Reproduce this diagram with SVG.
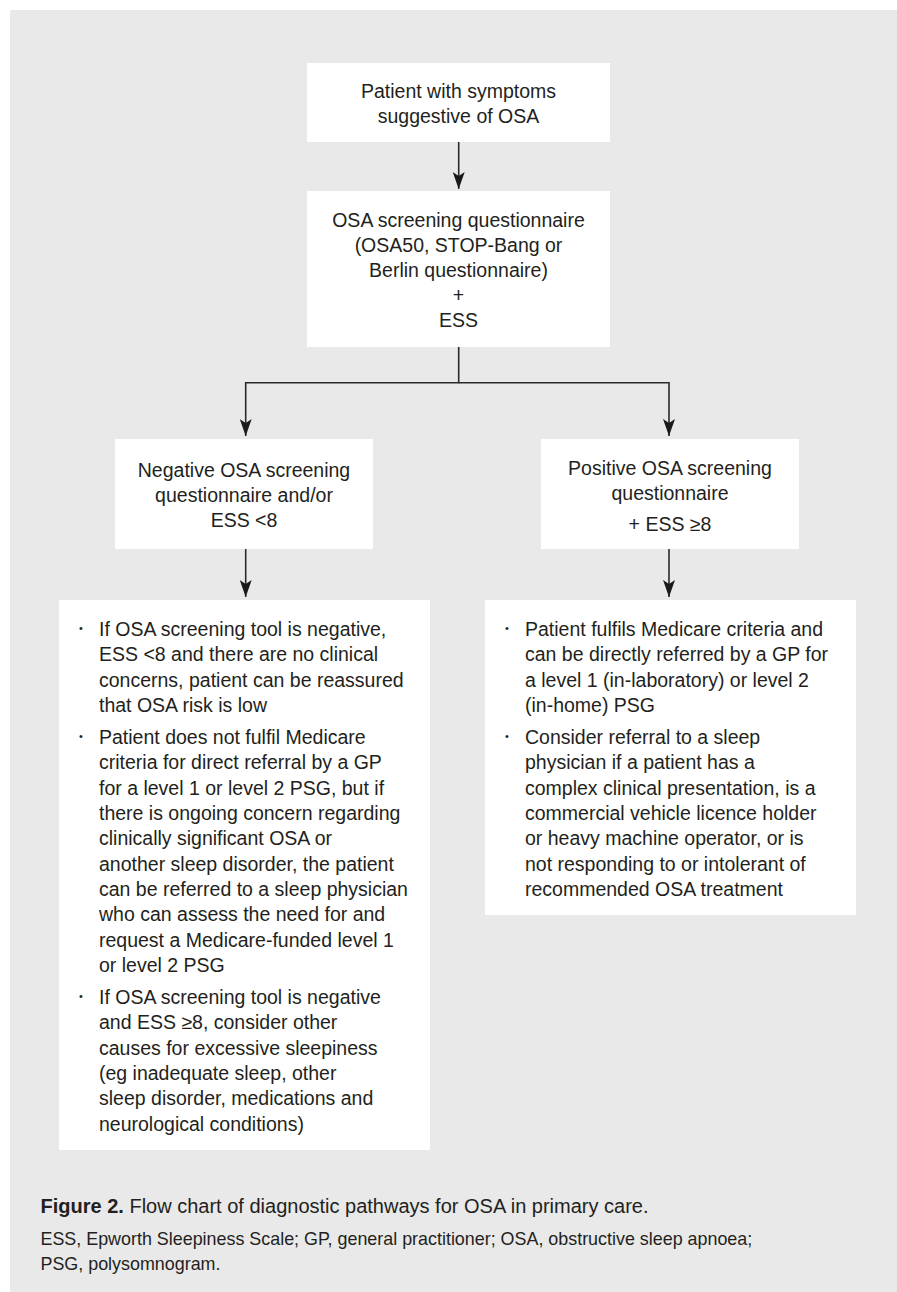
<svg xmlns="http://www.w3.org/2000/svg" width="897" height="1292" viewBox="0 0 897 1292">
<defs>
<marker id="ah" viewBox="0 0 17 12" refX="17" refY="6" markerWidth="17" markerHeight="12" markerUnits="userSpaceOnUse" orient="auto">
<path d="M0,0 L17,6 L0,12 L4,6 z" fill="#1a1a1a"/>
</marker>
<style>
.box{fill:#ffffff;}
.t{font-family:"Liberation Sans",Arial,sans-serif;font-size:19.5px;fill:#231f20;}
.c{text-anchor:middle;}
.b{font-family:"Liberation Sans",Arial,sans-serif;font-size:11px;fill:#231f20;text-anchor:middle;}
.cap1{font-family:"Liberation Sans",Arial,sans-serif;font-size:20px;fill:#231f20;}
.cap2{font-family:"Liberation Sans",Arial,sans-serif;font-size:17.9px;fill:#231f20;}
.ln{fill:none;stroke:#2a2a2a;stroke-width:1.6;}
</style>
</defs>
<rect x="0" y="0" width="897" height="1292" fill="#ffffff"/>
<rect x="10" y="10" width="887" height="1282" fill="#e9e9e9"/>

<g id="connectors">
<path class="ln" d="M458.7,142 V189" marker-end="url(#ah)"/>
<path class="ln" d="M458.7,347 V382.7 H245.7 V436" marker-end="url(#ah)"/>
<path class="ln" d="M458.7,382.7 H669 V436" marker-end="url(#ah)"/>
<path class="ln" d="M245.7,549 V597" marker-end="url(#ah)"/>
<path class="ln" d="M669,549 V597" marker-end="url(#ah)"/>
</g>

<g id="node-start">
<rect class="box" x="307" y="63" width="303" height="79"/>
<text class="t c" x="458.5" y="97.5">Patient with symptoms</text>
<text class="t c" x="458.5" y="122.5">suggestive of OSA</text>
</g>

<g id="node-screening">
<rect class="box" x="307" y="191" width="303" height="156"/>
<text class="t c" x="458.5" y="227">OSA screening questionnaire</text>
<text class="t c" x="458.5" y="252">(OSA50, STOP-Bang or</text>
<text class="t c" x="458.5" y="277">Berlin questionnaire)</text>
<text class="t c" x="458.5" y="302">+</text>
<text class="t c" x="458.5" y="327">ESS</text>
</g>

<g id="node-negative">
<rect class="box" x="115" y="439" width="258" height="110"/>
<text class="t c" x="244" y="477">Negative OSA screening</text>
<text class="t c" x="244" y="502">questionnaire and/or</text>
<text class="t c" x="244" y="527">ESS &lt;8</text>
</g>

<g id="node-positive">
<rect class="box" x="541" y="439" width="258" height="110"/>
<text class="t c" x="670" y="475">Positive OSA screening</text>
<text class="t c" x="670" y="500">questionnaire</text>
<text class="t c" x="670" y="531">+ ESS ≥8</text>
</g>

<g id="node-negative-actions">
<rect class="box" x="59" y="600" width="371" height="550"/>
<text class="b" x="81" y="632">•</text>
<text class="b" x="81" y="740">•</text>
<text class="b" x="81" y="1000">•</text>
<text class="t" x="99" y="636">
<tspan x="99" dy="0">If OSA screening tool is negative,</tspan>
<tspan x="99" dy="25.33">ESS &lt;8 and there are no clinical</tspan>
<tspan x="99" dy="25.33">concerns, patient can be reassured</tspan>
<tspan x="99" dy="25.33">that OSA risk is low</tspan>
</text>
<text class="t" x="99" y="744">
<tspan x="99" dy="0">Patient does not fulfil Medicare</tspan>
<tspan x="99" dy="25.33">criteria for direct referral by a GP</tspan>
<tspan x="99" dy="25.33">for a level 1 or level 2 PSG, but if</tspan>
<tspan x="99" dy="25.33">there is ongoing concern regarding</tspan>
<tspan x="99" dy="25.33">clinically significant OSA or</tspan>
<tspan x="99" dy="25.33">another sleep disorder, the patient</tspan>
<tspan x="99" dy="25.33">can be referred to a sleep physician</tspan>
<tspan x="99" dy="25.33">who can assess the need for and</tspan>
<tspan x="99" dy="25.33">request a Medicare-funded level 1</tspan>
<tspan x="99" dy="25.33">or level 2 PSG</tspan>
</text>
<text class="t" x="99" y="1004">
<tspan x="99" dy="0">If OSA screening tool is negative</tspan>
<tspan x="99" dy="25.33">and ESS ≥8, consider other</tspan>
<tspan x="99" dy="25.33">causes for excessive sleepiness</tspan>
<tspan x="99" dy="25.33">(eg inadequate sleep, other</tspan>
<tspan x="99" dy="25.33">sleep disorder, medications and</tspan>
<tspan x="99" dy="25.33">neurological conditions)</tspan>
</text>
</g>

<g id="node-positive-actions">
<rect class="box" x="485" y="600" width="371" height="315"/>
<text class="b" x="507" y="632">•</text>
<text class="b" x="507" y="740">•</text>
<text class="t" x="525" y="636">
<tspan x="525" dy="0">Patient fulfils Medicare criteria and</tspan>
<tspan x="525" dy="25.33">can be directly referred by a GP for</tspan>
<tspan x="525" dy="25.33">a level 1 (in-laboratory) or level 2</tspan>
<tspan x="525" dy="25.33">(in-home) PSG</tspan>
</text>
<text class="t" x="525" y="744">
<tspan x="525" dy="0">Consider referral to a sleep</tspan>
<tspan x="525" dy="25.33">physician if a patient has a</tspan>
<tspan x="525" dy="25.33">complex clinical presentation, is a</tspan>
<tspan x="525" dy="25.33">commercial vehicle licence holder</tspan>
<tspan x="525" dy="25.33">or heavy machine operator, or is</tspan>
<tspan x="525" dy="25.33">not responding to or intolerant of</tspan>
<tspan x="525" dy="25.33">recommended OSA treatment</tspan>
</text>
</g>

<g id="caption">
<text class="cap1" x="40.5" y="1213"><tspan font-weight="bold">Figure 2.</tspan> Flow chart of diagnostic pathways for OSA in primary care.</text>
<text class="cap2" x="40.5" y="1245">ESS, Epworth Sleepiness Scale; GP, general practitioner; OSA, obstructive sleep apnoea;</text>
<text class="cap2" x="40.5" y="1270">PSG, polysomnogram.</text>
</g>
</svg>
